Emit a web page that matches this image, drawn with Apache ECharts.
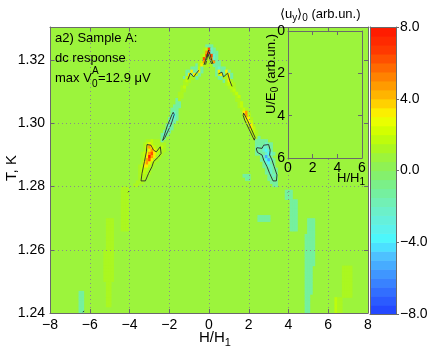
<!DOCTYPE html>
<html>
<head>
<meta charset="utf-8">
<script src="https://cdn.jsdelivr.net/npm/echarts@6/dist/echarts.min.js"></script>
<style>
  html, body { margin: 0; padding: 0; background: #fff; }
  #chart { width: 430px; height: 354px; }
</style>
</head>
<body>
<div id="chart"></div>
<script>
// cell size of the map (H/H1 and K)
const DH = 0.125, DT = 0.001;
const BG_LEVEL = 0.75;

// rows of the map: [T, first H, values...]
const PEAK_ROWS = [
  [1.3245, -0.125, [-1.2, -1.2, -1.2]],
  [1.3235, -0.25, [1.3, 1.8, 6, -2.5, -1.2]],
  [1.3225, -0.25, [1.3, 4.5, 7.5, -2.5, -1.2, -1.2]],
  [1.3215, -0.375, [1.3, 1.8, 6, 1.3, 6, -2.5, -1.2]],
  [1.3205, -0.375, [1.3, 6, 1.3, 1.3, 4.5, -2.5, -1.2]],
  [1.3195, -0.5, [1.3, 1.8, 4.5, 1.3, 1.3, 1.3, 4.5, -1.2, -1.2]],
  [1.3185, -0.625, [-1.2, 1.3, 3, 1.3, 1.3, 1.3, 1.3, -1.2, -1.2, -1.2]],
  [1.3175, -0.875, [-1.2, -1.2, -1.2, 1.8, -1.2]],
  [1.3175, 0.375, [-1.2, -2.5, -1.2, -1.2]],
  [1.3165, -1.125, [-1.2, -1.2, 3, -1.2, -1.2, 3, -1.2]],
  [1.3165, 0.375, [-1.2, 3, -1.2, -1.2, 3, -1.2]],
  [1.3155, -1.125, [-1.2, 3, -1.2, 3, 1.8, -1.2]],
  [1.3155, 0.375, [-1.2, 1.8, 3, -1.2, 1.8, 3, -1.2]],
  [1.3145, -1.25, [-1.2, 1.8, 1.3, 1.3, 1.3, -1.2]],
  [1.3145, 0.5, [-1.2, -1.2, 1.3, 1.3, 3, -1.2]],
  [1.3135, -1.25, [1.3, 1.8, 1.3]],
  [1.3135, 0.75, [-1.2, 1.3, 3, 1.3]],
  [1.3125, -1.25, [1.3, 1.3]],
  [1.3125, 0.875, [1.3, 1.8, 1.8, 1.3]],
  [1.3115, -1.375, [1.3, 1.8]],
  [1.3115, 1.0, [1.3, 1.8, 1.3]],
  [1.3105, -1.375, [1.3, 1.3]],
  [1.3105, 1.125, [1.3, 1.8]],
  [1.3095, -1.5, [1.3, 1.3]],
  [1.3095, 1.25, [1.3, 1.8]],
  [1.3085, -1.5, [1.3, 1.3]],
  [1.3085, 1.375, [1.3, 1.8]],
  [1.3075, -1.625, [-1.2, 1.3]],
  [1.3075, 1.375, [1.3, 1.3]],
  [1.3065, -1.625, [-1.2, -1.2]],
  [1.3065, 1.5, [1.3, 1.8]],
  [1.3055, -1.75, [-1.2, -1.2, -1.2]],
  [1.3055, 1.5, [1.3, 1.8]],
  [1.3045, -1.875, [-1.2, -1.2, -1.2]],
  [1.3045, 1.625, [1.3, 1.8, 1.3]]
];

const WING_ROWS = [
  [1.3035, -1.875, [-1.2, -2.5, -1.2]],
  [1.3035, 1.75, [3, 4.5, 1.3]],
  [1.3025, -1.875, [-2.5, -4, -1.2]],
  [1.3025, 1.75, [1.8, 4.5, 1.8]],
  [1.3015, -2.0, [-1.2, -2.5, -2.5, -1.2]],
  [1.3015, 1.875, [3, 3, 1.3]],
  [1.3005, -2.0, [-1.2, -2.5, -1.2]],
  [1.3005, 1.875, [1.8, 3, 1.8]],
  [1.2995, -2.125, [-1.2, -2.5, -1.2]],
  [1.2995, 2.0, [1.8, 3, 1.3]],
  [1.2985, -2.125, [-1.2, -2.5, -1.2]],
  [1.2985, 2.0, [1.3, 3, 1.8]],
  [1.2975, -2.25, [-1.2, -2.5, -1.2]],
  [1.2975, 2.125, [1.8, 1.8, 1.3]],
  [1.2965, -2.375, [-1.2, -2.5, -1.2]],
  [1.2965, 2.125, [1.3, 1.8, 1.3]],
  [1.2955, -2.375, [-1.2, -1.2]],
  [1.2955, 2.25, [1.8, 1.3, -1.2]],
  [1.2945, -3.125, [1.3, 1.3, 1.8, 1.3, 1.3, 1.3, -1.2]],
  [1.2945, 2.375, [-1.2, -1.2, -1.2, -1.2, -1.2]],
  [1.2935, -3.25, [1.3, 1.8, 3, 1.8, 1.3, 1.3, 1.3, 1.3, 1.3]],
  [1.2935, 2.375, [-1.2, -1.2, -1.2, -1.2, -2.5, -1.2, -1.2]],
  [1.2925, -3.25, [1.3, 3, 4.5, 3, 1.8, 1.3, 1.3, 1.8, 1.3]],
  [1.2925, 2.375, [-1.2, -2.5, -1.2, -2.5, -2.5, -1.2, -1.2]],
  [1.2915, -3.25, [1.3, 1.8, 3, 4.5, 3, 1.8, 1.8, 1.3, 1.3]],
  [1.2915, 2.375, [-1.2, -1.2, -1.2, -2.5, -4, -2.5, -1.2]],
  [1.2905, -3.375, [1.3, 1.8, 3, 4.5, 6, 3, 1.8, 1.3, 1.3]],
  [1.2905, 2.375, [-1.2, -1.2, -1.2, -1.2, -2.5, -4, -2.5, -1.2]],
  [1.2895, -3.375, [1.3, 1.8, 3, 7.5, 4.5, 3, 1.3, 1.3]],
  [1.2895, 2.625, [-1.2, -2.5, -5.5, -2.5, -1.2]],
  [1.2885, -3.375, [1.3, 1.8, 4.5, 6, 3, 1.3, 1.3]],
  [1.2885, 2.625, [-1.2, -1.2, -4, -5.5, -2.5, -1.2]],
  [1.2875, -3.375, [1.3, 3, 4.5, 3, 1.8, 1.3]],
  [1.2875, 2.75, [-1.2, -2.5, -4, -1.2, -1.2]],
  [1.2865, -3.5, [1.3, 1.8, 3, 3, 1.8, 1.3]],
  [1.2865, 2.75, [-1.2, -1.2, -2.5, -2.5, -1.2]],
  [1.2855, -3.5, [1.3, 1.8, 1.8, 1.8, 1.3]],
  [1.2855, 2.875, [-1.2, -1.2, -2.5, -1.2, -1.2]],
  [1.2845, -3.5, [1.3, 1.8, 1.8, 1.3, 1.3]],
  [1.2845, 2.875, [-1.2, -1.2, -2.5, -1.2, -1.2]],
  [1.2835, -3.5, [1.3, 1.8, 1.3, 1.3]],
  [1.2835, 1.75, [-1.2, -1.2, -1.2]],
  [1.2835, 3.0, [-1.2, -1.2, -2.5, -1.2]],
  [1.2825, -3.5, [1.3, 1.3, 1.3]],
  [1.2825, 1.875, [-1.2, -1.2]],
  [1.2825, 3.0, [-1.2, -1.2, -1.2, -1.2]],
  [1.2815, -3.625, [1.3, 1.3, 1.3]],
  [1.2815, 3.125, [-1.2, -1.2, -1.2]],
  [1.2805, -3.75, [1.3, 1.3]],
  [1.2805, 3.25, [-1.2, -1.2]]
];

// faint streaks in the lower part: [T top, T bottom, first H, values...]
const FAINT_BANDS = [
  [1.2795, 1.2665, -4.375, [1.3, 1.3, 1.3]],
  [1.2695, 1.2605, -5.125, [1.3, 1.3, 1.3]],
  [1.2595, 1.2505, -5.25, [1.3, 1.3, 1.3, 1.3]],
  [1.2495, 1.2425, -5.125, [1.3, 1.3]],
  [1.2465, 1.2405, -6.5, [-1.2, -1.2]],
  [1.2785, 1.2765, 3.875, [-1.2, -1.2, -1.2]],
  [1.2755, 1.2665, 4.125, [-1.2, -1.2, -1.2]],
  [1.2705, 1.2695, 2.5, [-1.2, -1.2, -1.2, -1.2, -1.2]],
  [1.2695, 1.2655, 5.0, [-1.2, -1.2, -1.2]],
  [1.2645, 1.2555, 4.875, [-1.2, -1.2, -1.2, -1.2]],
  [1.2545, 1.2465, 4.875, [-1.2, -1.2, -1.2]],
  [1.2455, 1.2405, 4.875, [-1.2, -1.2]],
  [1.2545, 1.2455, 6.75, [1.3, 1.3, 1.3, 1.3]],
  [1.2445, 1.2405, 6.375, [1.8, 1.3, 1.3]]
];

// contour lines: [H, T] points
const CONTOURS = [
  [[-0.25, 1.3185], [-0.12, 1.3212], [-0.02, 1.3232], [0.08, 1.3212], [0.2, 1.3188]],
  [[-0.17, 1.3186], [-0.05, 1.3220], [0.0, 1.3224], [0.13, 1.3188]],
  [[-1.06, 1.3139], [-0.94, 1.3159], [-0.77, 1.3147], [-0.6, 1.3162], [-0.5, 1.3168]],
  [[0.48, 1.3157], [0.65, 1.3162], [0.73, 1.3147], [0.94, 1.3159], [1.04, 1.3136], [1.16, 1.3117]],
  [[-1.80, 1.3035], [-1.75, 1.3028], [-1.90, 1.2998], [-2.22, 1.2955], [-2.33, 1.2946], [-2.37, 1.2952], [-2.10, 1.2992], [-1.86, 1.3028], [-1.80, 1.3035]],
  [[1.74, 1.3033], [1.82, 1.3034], [1.95, 1.3008], [2.32, 1.2955], [2.28, 1.2947], [2.20, 1.2953], [1.80, 1.3010], [1.72, 1.3025], [1.74, 1.3033]],
  [[-3.12, 1.2933], [-2.92, 1.2931], [-2.79, 1.2915], [-2.65, 1.2910], [-2.45, 1.2926], [-2.36, 1.2923], [-2.41, 1.2905], [-2.54, 1.2894], [-2.79, 1.2879], [-2.87, 1.2863], [-3.04, 1.2842], [-3.20, 1.2818], [-3.42, 1.2818], [-3.37, 1.2842], [-3.25, 1.2879], [-3.15, 1.2910], [-3.12, 1.2933]],
  [[2.41, 1.2923], [2.67, 1.2921], [2.75, 1.2931], [3.00, 1.2933], [3.08, 1.2915], [3.05, 1.2900], [3.17, 1.2884], [3.28, 1.2863], [3.42, 1.2837], [3.39, 1.2818], [3.22, 1.2818], [3.05, 1.2842], [2.92, 1.2863], [2.75, 1.2884], [2.67, 1.2900], [2.44, 1.2908], [2.38, 1.2919], [2.41, 1.2923]],
  [[-4.07, 1.2782], [-4.01, 1.2786]],
  [[3.97, 1.2782], [4.03, 1.2786]],
  [[-6.35, 1.2403], [-6.28, 1.2406]]
];

const FONT = '"Liberation Sans", Arial, sans-serif';
const AX = '#6a6a6a';

const CMAP = [[-8, '#2040ff'], [-6.9, '#3068ff'], [-5.7, '#4098ff'], [-4.6, '#50c8ff'], [-3.9, '#48f8ff'],
  [-3.1, '#60f0e8'], [-2, '#70f0c0'], [-0.9, '#78f090'], [0, '#88f060'], [0.75, '#9cf43c'], [1.4, '#b0f818'],
  [2.1, '#ccff00'], [2.9, '#f0ff00'], [3.4, '#ffe800'], [4, '#ffc000'], [4.8, '#ff9800'], [5.6, '#ff7000'],
  [6.7, '#ff3a00'], [8, '#ff1500']];

function hexRgb(h) { return [1, 3, 5].map(i => parseInt(h.slice(i, i + 2), 16)); }
function colorOf(v) {
  const band = Math.min(31, Math.max(0, Math.floor((v + 8) / 0.5)));
  const m = -8 + (band + 0.5) * 0.5;
  let i = 0;
  while (i < CMAP.length - 2 && CMAP[i + 1][0] < m) i++;
  const [v0, c0] = CMAP[i], [v1, c1] = CMAP[i + 1];
  const f = (m - v0) / (v1 - v0);
  const a = hexRgb(c0), b = hexRgb(c1);
  return 'rgb(' + a.map((x, k) => Math.round(x + (b[k] - x) * f)).join(',') + ')';
}
const BG = colorOf(BG_LEVEL);

const cells = [];
FAINT_BANDS.forEach(([t0, t1, h0, vals]) => {
  for (let t = t0; t >= t1 - 1e-9; t -= DT) {
    vals.forEach((v, i) => cells.push([h0 + i * DH, +t.toFixed(4), v]));
  }
});
PEAK_ROWS.concat(WING_ROWS).forEach(([t, h0, vals]) => {
  vals.forEach((v, i) => cells.push([h0 + i * DH, t, v]));
});

const cbLevels = [];
for (let v = -7.75; v < 8; v += 0.5) cbLevels.push([0.5, v, v]);

function minus(v) { return String(v).replace('-', '\u2212'); }

function cellItem(dx, dy) {
  return function (params, api) {
    const x = api.value(0), y = api.value(1);
    const a = api.coord([x - dx / 2, y + dy / 2]);
    const b = api.coord([x + dx / 2, y - dy / 2]);
    return {
      type: 'rect',
      shape: { x: a[0], y: a[1], width: b[0] - a[0] + 0.6, height: b[1] - a[1] + 0.6 },
      style: { fill: colorOf(api.value(2)) }
    };
  };
}

function frameAxis(grid, pos, min, max, interval, extra) {
  return Object.assign({
    gridIndex: grid, type: 'value', position: pos, min: min, max: max, interval: interval, z: 10,
    axisLine: { onZero: false, lineStyle: { color: AX, width: 1 } },
    axisTick: { inside: true, length: 4, lineStyle: { color: AX } },
    axisLabel: { show: false },
    splitLine: { show: false }
  }, extra || {});
}
const tickLabel = { color: '#000', fontSize: 14, fontFamily: FONT };

const RICH13 = {
  n: { fontSize: 13, fontFamily: FONT, fill: '#000', lineHeight: 18 },
  s: { fontSize: 10, fontFamily: FONT, fill: '#000', lineHeight: 10, verticalAlign: 'bottom' }
};
const RICH15 = {
  n: { fontSize: 15, fontFamily: FONT, fill: '#000', lineHeight: 20 },
  s: { fontSize: 11, fontFamily: FONT, fill: '#000', lineHeight: 11, verticalAlign: 'bottom' }
};
function txt(x, y, text, size, extra) {
  return Object.assign({
    type: 'text', x: x, y: y, z: 40,
    style: { text: text, font: size + 'px ' + FONT, fill: '#000', align: 'left', verticalAlign: 'middle',
      textAlign: 'left', textVerticalAlign: 'middle' }
  }, extra || {});
}

const chart = echarts.init(document.getElementById('chart'));
chart.setOption({
  animation: false,
  backgroundColor: '#fff',
  grid: [
    { left: 50, top: 27, width: 318, height: 286, show: true, backgroundColor: BG, borderWidth: 0, outerBoundsMode: 'none' },
    { left: 288, top: 31, width: 74, height: 127, show: false, outerBoundsMode: 'none' },
    { left: 370, top: 27, width: 26, height: 287, show: false, outerBoundsMode: 'none' }
  ],
  xAxis: [
    frameAxis(0, 'bottom', -8, 8, 2, {
      axisLabel: Object.assign({ margin: 5, formatter: minus }, tickLabel),
      splitLine: { show: true, lineStyle: { color: '#8a8a8a', type: [1, 3] } }
    }),
    frameAxis(0, 'top', -8, 8, 2),
    frameAxis(1, 'bottom', 0, 6, 2, { z: 30, axisLabel: Object.assign({ margin: 3 }, tickLabel) }),
    frameAxis(1, 'top', 0, 6, 2, { z: 30 }),
    frameAxis(2, 'bottom', 0, 1, 1, { axisTick: { show: false } }),
    frameAxis(2, 'top', 0, 1, 1, { axisTick: { show: false } })
  ],
  yAxis: [
    frameAxis(0, 'left', 1.24, 1.3305, 0.02, {
      axisLabel: Object.assign({
        margin: 5,
        formatter: v => Math.abs(v * 50 - Math.round(v * 50)) < 1e-6 ? v.toFixed(2) : ''
      }, tickLabel),
      splitLine: { show: true, lineStyle: { color: '#8a8a8a', type: [1, 3] } }
    }),
    frameAxis(0, 'right', 1.24, 1.3305, 0.02),
    frameAxis(1, 'left', 0, 6, 2, { z: 30, inverse: true, axisLabel: Object.assign({ margin: 3 }, tickLabel) }),
    frameAxis(1, 'right', 0, 6, 2, { z: 30, inverse: true }),
    frameAxis(2, 'right', -8, 8, 4, {
      axisTick: { inside: false, length: 3, lineStyle: { color: AX } },
      axisLabel: Object.assign({ margin: 4, formatter: v => minus(v.toFixed(1)) }, tickLabel)
    }),
    frameAxis(2, 'left', -8, 8, 4, { axisTick: { show: false } })
  ],
  series: [
    {
      type: 'custom', xAxisIndex: 0, yAxisIndex: 0, z: 2, clip: true, silent: true,
      renderItem: cellItem(DH, DT), data: cells
    }
  ].concat(CONTOURS.map(pts => ({
    type: 'line', xAxisIndex: 0, yAxisIndex: 0, z: 3, silent: true, showSymbol: false, symbol: 'none',
    lineStyle: { color: '#2a2a2a', width: 0.9 }, data: pts
  }))).concat([
    {
      type: 'custom', xAxisIndex: 2, yAxisIndex: 2, z: 20, silent: true, data: [[3, 3]],
      renderItem: (p) => ({
        type: 'rect',
        shape: { x: p.coordSys.x, y: p.coordSys.y, width: p.coordSys.width, height: p.coordSys.height },
        style: { fill: BG }
      })
    },
    {
      type: 'custom', xAxisIndex: 4, yAxisIndex: 4, z: 2, silent: true,
      renderItem: cellItem(1, 0.5), data: cbLevels
    }
  ]),
  graphic: [
    txt(55, 38, 'a2) Sample A:', 13),
    txt(55, 58, 'dc response', 13),
    txt(55, 78, 'max V', 13),
    txt(92, 84, '0', 10),
    txt(92, 71, 'A', 10),
    txt(98, 78, '=12.9 \u03bcV', 13),
    txt(12, 168, 'T, K', 15, { rotation: Math.PI / 2, style: { text: 'T, K', font: '15px ' + FONT, fill: '#000', align: 'center', verticalAlign: 'middle', textAlign: 'center', textVerticalAlign: 'middle' } }),
    { type: 'text', x: 215, y: 338, z: 40, style: { text: '{n|H/H}{s|1}', rich: RICH15, align: 'center', verticalAlign: 'middle', textAlign: 'center', textVerticalAlign: 'middle' } },
    { type: 'text', x: 280, y: 14, z: 40, style: { text: '{n|\u27e8u}{s|y}{n|\u27e9}{s|0}{n| (arb.un.)}', rich: RICH13, align: 'left', verticalAlign: 'middle', textAlign: 'left', textVerticalAlign: 'middle' } },
    { type: 'text', x: 337, y: 178, z: 40, style: { text: '{n|H/H}{s|1}', rich: RICH13, align: 'left', verticalAlign: 'middle', textAlign: 'left', textVerticalAlign: 'middle' } },
    {
      type: 'group', x: 271, y: 114, rotation: Math.PI / 2, z: 40,
      children: [{ type: 'text', x: 0, y: 0, z: 40, style: { text: '{n|U/E}{s|0}{n| (arb.un.)}', rich: RICH13, align: 'left', verticalAlign: 'middle', textAlign: 'left', textVerticalAlign: 'middle' } }]
    }
  ]
});
</script>
</body>
</html>
